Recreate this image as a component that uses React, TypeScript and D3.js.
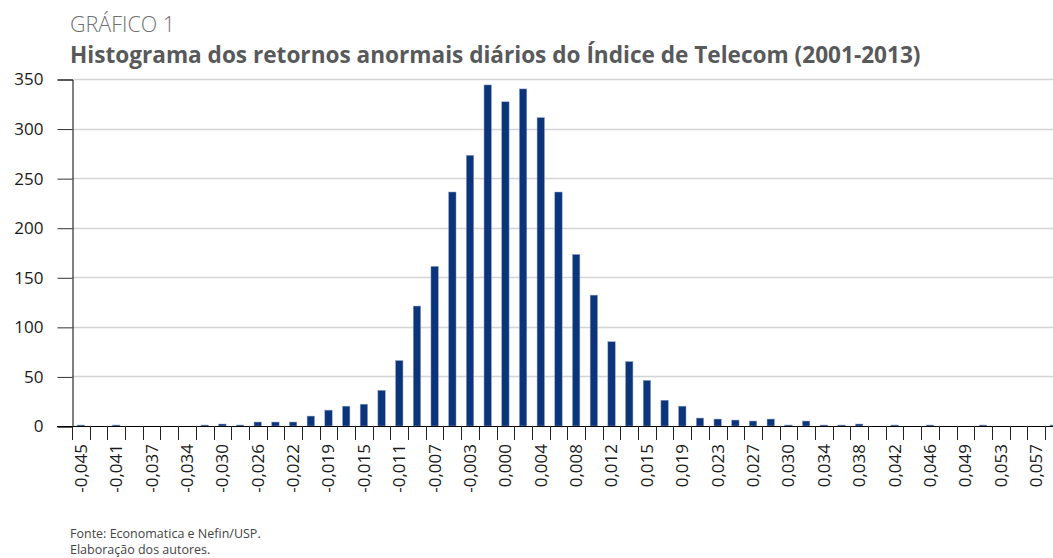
import React, { useEffect, useRef } from 'react';
import * as d3 from 'd3';

// bin centres (every other one gets a label on the axis)
const categories = [
  '-0,045', '-0,043', '-0,041', '-0,039', '-0,037', '-0,036', '-0,034', '-0,032',
  '-0,030', '-0,028', '-0,026', '-0,024', '-0,022', '-0,020', '-0,019', '-0,017',
  '-0,015', '-0,013', '-0,011', '-0,009', '-0,007', '-0,005', '-0,003', '-0,002',
  '0,000', '0,002', '0,004', '0,006', '0,008', '0,010', '0,012', '0,014',
  '0,015', '0,017', '0,019', '0,021', '0,023', '0,025', '0,027', '0,029',
  '0,030', '0,032', '0,034', '0,036', '0,038', '0,040', '0,042', '0,044',
  '0,046', '0,048', '0,049', '0,051', '0,053', '0,055', '0,057', '0,059',
];

// frequencies per bin
const counts = [
  1, 0, 1, 0, 0, 0, 0, 1,
  2, 1, 4, 4, 4, 10, 16, 20,
  22, 36, 66, 121, 161, 236, 273, 344,
  327, 340, 311, 236, 173, 132, 85, 65,
  46, 26, 20, 8, 7, 6, 5, 7,
  1, 5, 1, 1, 2, 0, 1, 0,
  1, 0, 0, 1, 0, 0, 0, 1,
];

const yTicks = [0, 50, 100, 150, 200, 250, 300, 350];

const FONT = '"Open Sans", "DejaVu Sans", sans-serif';

export default function App() {
  const ref = useRef<SVGSVGElement>(null);

  useEffect(() => {
    const svg = d3.select(ref.current);
    svg.selectAll('*').remove();

    const left = 72;
    const step = 17.69;
    const barW = 7.4;

    const x = d3
      .scaleBand<string>()
      .domain(categories)
      .range([left, left + step * categories.length])
      .padding(0);

    const y = d3.scaleLinear().domain([0, 350]).range([426, 79]);

    // titles
    svg
      .append('text')
      .attr('x', 70)
      .attr('y', 31.5)
      .attr('fill', '#707070')
      .attr('font-size', 21.5)
      .attr('font-weight', 300)
      .text('GRÁFICO 1');

    svg
      .append('text')
      .attr('x', 70)
      .attr('y', 62.5)
      .attr('fill', '#58595b')
      .attr('font-size', 22.6)
      .attr('font-weight', 700)
      .text('Histograma dos retornos anormais diários do Índice de Telecom (2001-2013)');

    // gridlines
    svg
      .append('g')
      .selectAll('line')
      .data(yTicks.filter(d => d > 0))
      .join('line')
      .attr('x1', left)
      .attr('x2', 1053)
      .attr('y1', d => Math.round(y(d)) + 0.5)
      .attr('y2', d => Math.round(y(d)) + 0.5)
      .attr('stroke', '#d4d4d4')
      .attr('stroke-width', 1.5);

    // bars
    svg
      .append('g')
      .selectAll('rect')
      .data(counts)
      .join('rect')
      .attr('x', (d, i) => (x(categories[i]) as number) + (step - barW) / 2)
      .attr('width', barW)
      .attr('y', d => y(d))
      .attr('height', d => y(0) - y(d))
      .attr('fill', '#0b347a')
      .attr('stroke', '#8ea3c6')
      .attr('stroke-width', 0.5);

    // y axis
    const yAxis = d3
      .axisLeft(y)
      .tickValues(yTicks)
      .tickSize(15)
      .tickPadding(14)
      .tickFormat(d => String(d));
    const yg = svg.append('g').attr('transform', `translate(${left + 0.5},0.5)`).call(yAxis);
    yg.select('.domain').attr('stroke', '#000');
    yg.selectAll('.tick line').attr('stroke', '#333');
    yg.selectAll('.tick text')
      .attr('font-family', FONT)
      .attr('font-size', 17)
      .attr('fill', '#1a1a1a');

    // x axis line and ticks at bin boundaries
    const xg = svg.append('g');
    xg.append('line')
      .attr('x1', left - 15)
      .attr('x2', 1053)
      .attr('y1', y(0) + 0.5)
      .attr('y2', y(0) + 0.5)
      .attr('stroke', '#000');
    xg.selectAll('line.tk')
      .data(d3.range(categories.length + 1))
      .join('line')
      .attr('class', 'tk')
      .attr('x1', i => Math.round(left + i * step) + 0.5)
      .attr('x2', i => Math.round(left + i * step) + 0.5)
      .attr('y1', y(0))
      .attr('y2', y(0) + 14)
      .attr('stroke', '#222');

    xg.selectAll('text')
      .data(categories.filter((c, i) => i % 2 === 0))
      .join('text')
      .attr('transform', c => `translate(${(x(c) as number) + step / 2},444) rotate(-90)`)
      .attr('text-anchor', 'end')
      .attr('dy', '0.35em')
      .attr('font-size', 17)
      .attr('fill', '#1a1a1a')
      .text(c => c);

    // source note
    const foot = svg.append('g').attr('font-size', 12.5).attr('fill', '#444');
    foot.append('text').attr('x', 70).attr('y', 538).text('Fonte: Economatica e Nefin/USP.');
    foot.append('text').attr('x', 70).attr('y', 554).text('Elaboração dos autores.');
  }, []);

  return (
    <svg
      ref={ref}
      width={1053}
      height={558}
      style={{ position: 'absolute', left: 0, top: 0, background: '#fff', fontFamily: FONT }}
    />
  );
}
